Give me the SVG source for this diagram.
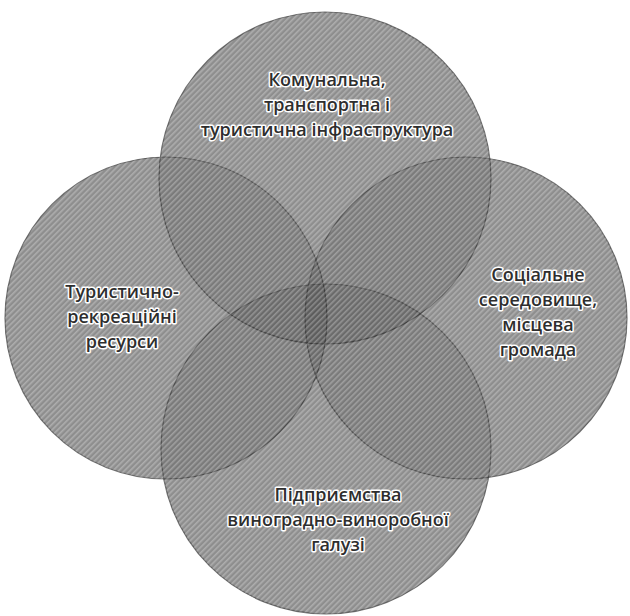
<svg xmlns="http://www.w3.org/2000/svg" width="630" height="616" viewBox="0 0 630 616">
<defs>
<pattern id="hatch" width="4" height="4" patternUnits="userSpaceOnUse" patternTransform="rotate(45)">
<rect x="0" y="0" width="1.6" height="4" fill="#ffffff"/>
</pattern>
<clipPath id="allc">
<circle cx="325" cy="178" r="166"/>
<circle cx="166" cy="318" r="161"/>
<circle cx="466" cy="318" r="161"/>
<circle cx="326" cy="449" r="165"/>
</clipPath>
</defs>
<style>
.c{fill:#000000;fill-opacity:0.13;stroke:#3a3a3a;stroke-width:1.2;stroke-opacity:0.7}
.t{font-family:"Open Sans","Noto Sans","DejaVu Sans",sans-serif;font-size:18px;font-weight:600;fill:#2e2e2e;text-anchor:middle;stroke:#ffffff;stroke-width:3;stroke-linejoin:round;paint-order:stroke}
</style>
<rect width="630" height="616" fill="#ffffff"/>
<g id="base" clip-path="url(#allc)"><rect width="630" height="616" fill="#a4a4a4"/></g>
<g id="connectors"></g>
<g id="top"><circle class="c" cx="325" cy="178" r="166"/></g>
<g id="left"><circle class="c" cx="166" cy="318" r="161"/></g>
<g id="right"><circle class="c" cx="466" cy="318" r="161"/></g>
<g id="bottom"><circle class="c" cx="326" cy="449" r="165"/></g>
<g id="texture" clip-path="url(#allc)"><rect width="630" height="616" fill="url(#hatch)" opacity="0.28"/></g>
<g id="top-label">
<text class="t" x="327" y="86">Комунальна,</text>
<text class="t" x="327" y="111">транспортна і</text>
<text class="t" x="327" y="136">туристична інфраструктура</text>
</g>
<g id="left-label">
<text class="t" x="122" y="298">Туристично-</text>
<text class="t" x="122" y="323">рекреаційні</text>
<text class="t" x="122" y="348">ресурси</text>
</g>
<g id="right-label">
<text class="t" x="538" y="281">Соціальне</text>
<text class="t" x="538" y="306">середовище,</text>
<text class="t" x="538" y="331">місцева</text>
<text class="t" x="538" y="356">громада</text>
</g>
<g id="bottom-label">
<text class="t" x="338" y="501">Підприємства</text>
<text class="t" x="338" y="526">виноградно-виноробної</text>
<text class="t" x="338" y="551">галузі</text>
</g>
</svg>
